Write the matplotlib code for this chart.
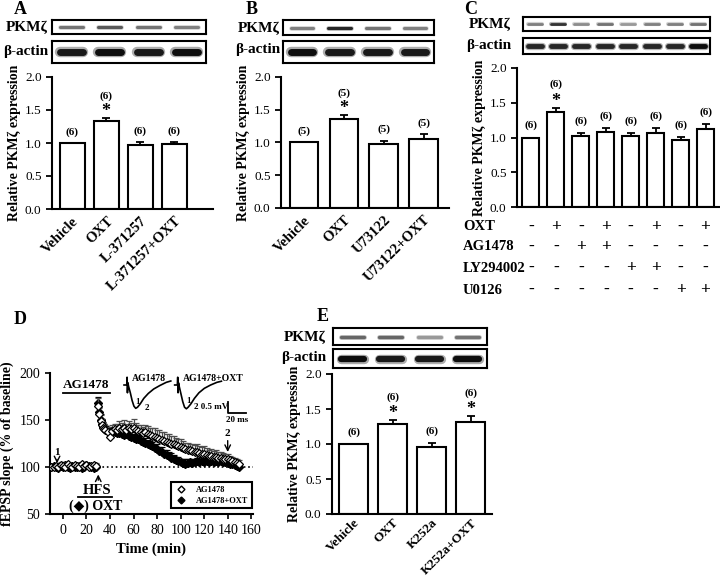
import numpy as np
import matplotlib
matplotlib.use('Agg')
import matplotlib.pyplot as plt
from matplotlib.lines import Line2D
from matplotlib.transforms import blended_transform_factory

plt.rcParams['font.family'] = ['Liberation Serif', 'DejaVu Sans']

# ---- data ----
A_labels = ['Vehicle', 'OXT', 'L-371257', 'L-371257+OXT']
A_mean = [1.00, 1.33, 0.97, 0.98]
A_sem = [0.00, 0.05, 0.04, 0.03]
A_n = [6, 6, 6, 6]
A_sig = [False, True, False, False]

B_labels = ['Vehicle', 'OXT', 'U73122', 'U73122+OXT']
B_mean = [1.00, 1.36, 0.98, 1.06]
B_sem = [0.00, 0.06, 0.05, 0.07]
B_n = [5, 5, 5, 5]
B_sig = [False, True, False, False]

C_mean = [1.00, 1.36, 1.02, 1.08, 1.02, 1.06, 0.96, 1.12]
C_sem = [0.00, 0.07, 0.05, 0.05, 0.05, 0.07, 0.05, 0.07]
C_n = [6, 6, 6, 6, 6, 6, 6, 6]
C_sig = [False, True, False, False, False, False, False, False]
C_rows = ['OXT', 'AG1478', 'LY294002', 'U0126']
C_signs = [['-', '+', '-', '+', '-', '+', '-', '+'],
           ['-', '-', '+', '+', '-', '-', '-', '-'],
           ['-', '-', '-', '-', '+', '+', '-', '-'],
           ['-', '-', '-', '-', '-', '-', '+', '+']]

E_labels = ['Vehicle', 'OXT', 'K252a', 'K252a+OXT']
E_mean = [1.00, 1.29, 0.96, 1.32]
E_sem = [0.00, 0.05, 0.05, 0.08]
E_n = [6, 6, 6, 6]
E_sig = [False, True, False, True]

# blot band darkness per lane
A_pkm = [0.55, 0.65, 0.55, 0.50]
A_act = [0.90, 0.95, 0.90, 0.95]
B_pkm = [0.50, 0.85, 0.55, 0.50]
B_act = [0.95, 0.90, 0.90, 0.90]
C_pkm = [0.50, 0.80, 0.45, 0.55, 0.40, 0.50, 0.50, 0.55]
C_act = [0.85, 0.85, 0.85, 0.85, 0.85, 0.85, 0.85, 0.95]
E_pkm = [0.60, 0.60, 0.40, 0.55]
E_act = [0.95, 0.90, 0.90, 0.95]

# panel D time course (min, % of baseline)
D_time = list(range(-10, 30, 2)) + [30, 31, 32, 33, 34, 35] + list(range(36, 151, 2))
D_ag = [100, 100, 101, 100, 102, 101, 100, 103, 101, 100,
        102, 101, 100, 103, 101, 102, 100, 101, 102, 101,
        165, 156, 149, 145, 142, 140,
        139, 137, 132, 138, 140, 139, 141, 140, 142, 139,
        141, 140, 142, 139, 138, 137, 136, 137, 135, 134,
        133, 132, 131, 130, 129, 128, 127, 126, 125, 124,
        123, 122, 121, 120, 119, 118, 118, 117, 116, 116,
        115, 114, 114, 113, 112, 112, 111, 111, 110, 110,
        109, 109, 108, 107, 106, 105, 104, 103]
D_ag_err = [2, 3, 2, 2, 3, 2, 3, 2, 2, 3,
            2, 3, 2, 2, 3, 2, 2, 3, 2, 3,
            8, 7, 6, 6, 6, 6,
            6, 6, 8, 7, 6, 7, 8, 7, 8, 7,
            8, 7, 9, 8, 7, 8, 7, 8, 9, 8,
            8, 9, 8, 9, 8, 9, 8, 9, 8, 9,
            8, 8, 9, 8, 7, 8, 7, 8, 7, 8,
            7, 7, 8, 7, 6, 7, 6, 7, 6, 6,
            6, 5, 6, 5, 5, 5, 4, 4]
D_oxt = [100, 101, 100, 99, 101, 100, 102, 100, 99, 101,
         100, 100, 101, 99, 100, 102, 101, 100, 99, 100,
         168, 158, 150, 146, 143, 141,
         140, 139, 138, 137, 137, 136, 136, 135, 134, 135,
         133, 132, 131, 130, 130, 128, 127, 126, 125, 123,
         122, 120, 119, 117, 116, 114, 113, 112, 110, 109,
         107, 106, 105, 104, 103, 104, 105, 104, 105, 106,
         105, 106, 105, 106, 105, 106, 105, 106, 105, 106,
         105, 105, 104, 103, 103, 102, 101, 100]
D_oxt_err = [2, 2, 2, 3, 2, 2, 3, 2, 2, 2,
             3, 2, 2, 2, 3, 2, 2, 3, 2, 3,
             7, 6, 6, 5, 5, 5,
             4, 4, 4, 5, 4, 4, 5, 4, 4, 5,
             4, 5, 4, 5, 4, 5, 4, 5, 4, 5,
             5, 4, 5, 4, 5, 4, 5, 4, 5, 4,
             4, 5, 4, 4, 5, 4, 4, 5, 4, 4,
             4, 5, 4, 4, 5, 4, 4, 4, 5, 4,
             4, 4, 5, 4, 4, 4, 4, 3]

# example fEPSP traces (ms, mV)
trace_t = [0, 3, 3.4, 3.8, 4.3, 5, 7, 9, 11, 13, 15, 18, 22, 27, 33, 40, 47, 52]
trace_ag = [0, 0, 0.35, -0.35, 0.1, -0.05, -0.35, -0.7, -0.95, -1.05, -1.0, -0.85,
            -0.6, -0.38, -0.18, -0.02, 0.12, 0.18]
trace_oxt = [0, 0, 0.35, -0.35, 0.1, -0.05, -0.4, -0.75, -1.0, -1.07, -1.0, -0.85,
             -0.6, -0.35, -0.15, 0.0, 0.12, 0.17]

W, H = 720, 578
fig = plt.figure(figsize=(7.2, 5.78), dpi=100)


def box(l, t, r, b):
    return [l / W, 1 - b / H, (r - l) / W, (b - t) / H]


def blot(rect, dark, lw):
    ax = fig.add_axes(rect)
    for i, d in enumerate(dark):
        ax.plot([i + 0.2, i + 0.8], [0.5, 0.5], color=str(1 - d), lw=lw * 1.5,
                alpha=0.35, solid_capstyle='round')
        ax.plot([i + 0.2, i + 0.8], [0.5, 0.5], color=str(1 - d), lw=lw,
                solid_capstyle='round')
    ax.set_xlim(0, len(dark))
    ax.set_ylim(0, 1)
    ax.set_xticks([])
    ax.set_yticks([])
    for s in ax.spines.values():
        s.set_linewidth(1.5)
    return ax


def bar_panel(rect, labels, means, sems, ns, sig, xlim, width, lab_size=10.5, lab_pad=4):
    ax = fig.add_axes(rect)
    x = np.arange(len(means))
    ax.bar(x, means, width, color='white', edgecolor='black', linewidth=1.5, zorder=2)
    ax.errorbar(x, means, yerr=[np.zeros(len(sems)), sems], fmt='none', ecolor='black',
                elinewidth=1.3, capsize=3, capthick=1.3, zorder=1)
    for xi, m, s, n, st in zip(x, means, sems, ns, sig):
        top = m + s
        if st:
            ax.text(xi, top + 0.03, '*', ha='center', va='baseline', fontsize=13,
                    fontweight='bold')
            ax.text(xi, top + 0.33, '(%d)' % n, ha='center', va='center', fontsize=8,
                    fontweight='bold')
        else:
            ax.text(xi, top + 0.17, '(%d)' % n, ha='center', va='center', fontsize=8,
                    fontweight='bold')
    ax.set_xlim(*xlim)
    ax.set_ylim(0, 2)
    ax.set_yticks([0, 0.5, 1.0, 1.5, 2.0])
    ax.set_yticklabels(['0.0', '0.5', '1.0', '1.5', '2.0'])
    ax.set_xticks(x)
    if labels:
        ax.set_xticklabels(labels, rotation=45, ha='right', rotation_mode='anchor',
                           fontweight='bold', fontsize=lab_size)
    else:
        ax.set_xticklabels([])
    ax.spines['top'].set_visible(False)
    ax.spines['right'].set_visible(False)
    ax.spines['left'].set_linewidth(1.5)
    ax.spines['bottom'].set_linewidth(1.5)
    ax.tick_params(axis='y', direction='out', length=4, width=1.3, labelsize=9.5)
    ax.tick_params(axis='x', length=0, pad=lab_pad)
    ax.set_ylabel('Relative PKMζ expression', fontweight='bold', fontsize=10, labelpad=3)
    return ax


# ---- A ----
blot(box(52, 20, 206, 34), A_pkm, 2.2)
blot(box(52, 41, 206, 63), A_act, 5)
fig.text(48 / W, 1 - 27 / H, 'PKMζ', ha='right', va='center', fontsize=11, fontweight='bold')
fig.text(48 / W, 1 - 52 / H, 'β-actin', ha='right', va='center', fontsize=11, fontweight='bold')
bar_panel(box(52, 77, 213, 209), A_labels, A_mean, A_sem, A_n, A_sig, (-0.59, 4.13), 0.73)
fig.text(20 / W, 1 - 9 / H, 'A', ha='center', va='center', fontsize=13, fontweight='bold')

# ---- B ----
blot(box(283, 20, 434, 35), B_pkm, 2.2)
blot(box(283, 41, 434, 63), B_act, 5)
fig.text(280 / W, 1 - 28 / H, 'PKMζ', ha='right', va='center', fontsize=11, fontweight='bold')
fig.text(280 / W, 1 - 50 / H, 'β-actin', ha='right', va='center', fontsize=11, fontweight='bold')
bar_panel(box(281, 77, 449, 208), B_labels, B_mean, B_sem, B_n, B_sig, (-0.575, 3.63), 0.72)
fig.text(252 / W, 1 - 9 / H, 'B', ha='center', va='center', fontsize=13, fontweight='bold')

# ---- C ----
blot(box(523, 17, 710, 31), C_pkm, 2.0)
blot(box(523, 38, 710, 54), C_act, 3.5)
fig.text(511 / W, 1 - 24 / H, 'PKMζ', ha='right', va='center', fontsize=11, fontweight='bold')
fig.text(511 / W, 1 - 46 / H, 'β-actin', ha='right', va='center', fontsize=11, fontweight='bold')
axC = bar_panel(box(517, 68, 719, 207), None, C_mean, C_sem, C_n, C_sig, (-0.56, 7.54), 0.68)
fig.text(471 / W, 1 - 9 / H, 'C', ha='center', va='center', fontsize=13, fontweight='bold')
trC = blended_transform_factory(axC.transData, fig.transFigure)
for row, signs, ypx in zip(C_rows, C_signs, [227, 247, 268, 290]):
    fig.text(463 / W, 1 - ypx / H, row, ha='left', va='center', fontsize=10.5, fontweight='bold')
    for i, sg in enumerate(signs):
        axC.text(i, 1 - ypx / H, sg, transform=trC, ha='center', va='center',
                 fontsize=12.5, fontweight='bold', clip_on=False)

# ---- D ----
axD = fig.add_axes(box(50, 373, 253, 514))
axD.plot([30, 161.5], [100, 100], ls=':', color='black', lw=1.2, zorder=1)
n = len(D_time)
axD.errorbar(D_time, D_oxt, yerr=[np.zeros(n), D_oxt_err], fmt='D', ms=4.2, mfc='black',
             mec='black', ecolor='black', elinewidth=0.9, capsize=2, capthick=0.9, zorder=2)
axD.errorbar(D_time, D_ag, yerr=[np.zeros(n), D_ag_err], fmt='D', ms=4.0, mfc='white',
             mec='black', mew=0.9, ecolor='0.3', elinewidth=0.9, capsize=2, capthick=0.9,
             zorder=3)
axD.set_xlim(-11, 161.5)
axD.set_ylim(50, 200)
axD.set_xticks(range(0, 161, 20))
axD.set_yticks([50, 100, 150, 200])
axD.spines['top'].set_visible(False)
axD.spines['right'].set_visible(False)
axD.spines['left'].set_linewidth(1.5)
axD.spines['bottom'].set_linewidth(1.5)
axD.tick_params(direction='out', length=3.5, width=1.2, labelsize=10)
axD.set_xlabel('Time (min)', fontweight='bold', fontsize=10.5)
axD.set_ylabel('fEPSP slope (% of baseline)', fontweight='bold', fontsize=10)
h1 = Line2D([], [], ls='none', marker='D', ms=3.5, mfc='white', mec='black')
h2 = Line2D([], [], ls='none', marker='D', ms=3.5, mfc='black', mec='black')
leg = axD.legend([h1, h2], ['AG1478', 'AG1478+OXT'], loc='lower right',
                 bbox_to_anchor=(1.015, 0.01), prop={'weight': 'bold', 'size': 6},
                 fancybox=False, edgecolor='black', framealpha=1, borderpad=0.45,
                 handletextpad=1.0, handlelength=1.5, labelspacing=0.3)
leg.get_frame().set_linewidth(1.5)
axD.plot([0, 40], [179, 179], color='black', lw=1.3)
axD.text(20, 180.5, 'AG1478', ha='center', va='bottom', fontsize=9.5, fontweight='bold')
axD.annotate('', xy=(-5, 101), xytext=(-5, 111), arrowprops=dict(arrowstyle='->', lw=1))
axD.text(-5, 111, '1', ha='center', va='bottom', fontsize=8, fontweight='bold')
axD.annotate('', xy=(140, 113), xytext=(140, 131), arrowprops=dict(arrowstyle='->', lw=1))
axD.text(140, 131, '2', ha='center', va='bottom', fontsize=8, fontweight='bold')
axD.annotate('', xy=(30, 95), xytext=(30, 83), arrowprops=dict(arrowstyle='->', lw=1))
axD.text(29, 75, 'HFS', ha='center', va='center', fontsize=10.5, fontweight='bold')
axD.plot([13, 41.5], [68, 68], color='black', lw=1.3)
axD.text(28, 58, '(◆) OXT', ha='center', va='center', fontsize=10, fontweight='bold')
fig.text(20 / W, 1 - 320 / H, 'D', ha='center', va='center', fontsize=13, fontweight='bold')

# traces inset
axT = fig.add_axes(box(118, 368, 252, 425))
axT.set_xlim(0, 149)
axT.set_ylim(-1.8, 0.765)
axT.axis('off')
axT.plot(np.array(trace_t) + 6.7, trace_ag, color='black', lw=1.2)
axT.plot(np.array(trace_t) + 63, trace_oxt, color='black', lw=1.2)
axT.text(16, 0.3, 'AG1478', ha='left', va='center', fontsize=7, fontweight='bold')
axT.text(72, 0.3, 'AG1478+OXT', ha='left', va='center', fontsize=7, fontweight='bold')
axT.text(22, -0.75, '1', ha='center', va='center', fontsize=6.5, fontweight='bold')
axT.text(32, -1.02, '2', ha='center', va='center', fontsize=6.5, fontweight='bold')
axT.text(78, -0.72, '1', ha='center', va='center', fontsize=6.5, fontweight='bold')
axT.text(84, -0.98, '2 0.5 mV', ha='left', va='center', fontsize=6.5, fontweight='bold')
axT.plot([122, 122, 142], [-0.77, -1.27, -1.27], color='black', lw=1.3)
axT.text(132, -1.58, '20 ms', ha='center', va='center', fontsize=6.5, fontweight='bold')

# ---- E ----
blot(box(333, 328, 487, 345), E_pkm, 2.4)
blot(box(333, 349, 487, 368), E_act, 4.5)
fig.text(326 / W, 1 - 337 / H, 'PKMζ', ha='right', va='center', fontsize=11, fontweight='bold')
fig.text(326 / W, 1 - 358 / H, 'β-actin', ha='right', va='center', fontsize=11, fontweight='bold')
bar_panel(box(332, 374, 492, 514), E_labels, E_mean, E_sem, E_n, E_sig, (-0.56, 3.55), 0.75,
          lab_size=9.5, lab_pad=2)
fig.text(323 / W, 1 - 316 / H, 'E', ha='center', va='center', fontsize=13, fontweight='bold')

fig.savefig('out.png', dpi=100)
